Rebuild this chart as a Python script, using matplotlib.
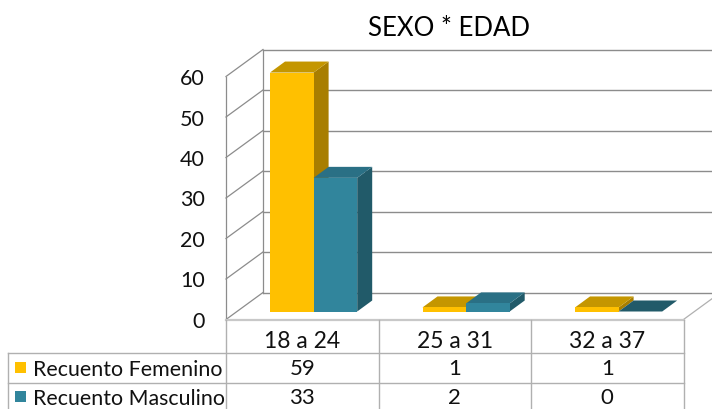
import matplotlib
matplotlib.use("Agg")
import matplotlib.pyplot as plt
from matplotlib.patches import Polygon

plt.rcParams['font.family'] = ['Lato', 'DejaVu Sans']

categories = ["18 a 24", "25 a 31", "32 a 37"]
series_names = ["Recuento Femenino", "Recuento Masculino"]
femenino = [59, 1, 1]
masculino = [33, 2, 0]
y_ticks = [0, 10, 20, 30, 40, 50, 60]
title = "SEXO * EDAD"

colors = [("#FFC000", "#A87E00", "#C49600"), ("#31859C", "#215A69", "#2A7085")]

# layout (pixels)
W, H = 712, 410
x0, x1 = 226.0, 683.5
y0 = 320.5
unit = 4.05
wall_dx, wall_dy = 37, -27
cat_w = (x1 - x0) / len(categories)
bar_w = 43.6
gap = 44.0
base_y = 312.5
bar_dx, bar_dy = 15, -11

fig = plt.figure(figsize=(W / 100, H / 100), dpi=100)
ax = fig.add_axes([0, 0, 1, 1])
ax.set_xlim(0, W)
ax.set_ylim(H, 0)
ax.axis("off")

grid = "#8c8c8c"
# walls and grid
for t in y_ticks:
    y = y0 - t * unit
    ax.plot([x0, x0 + wall_dx], [y, y + wall_dy], color=grid, lw=0.9, zorder=1)
    ax.plot([x0 + wall_dx, W + 5], [y + wall_dy, y + wall_dy], color=grid, lw=1.0, zorder=1)
    ax.text(205, y + 1.5, str(t), ha="right", va="center", fontsize=15.5, color="#111111")
ax.plot([x0, x0], [y0, y0 - max(y_ticks) * unit], color=grid, lw=0.9, zorder=1)
ax.plot([x0 + wall_dx] * 2, [y0 + wall_dy, y0 - max(y_ticks) * unit + wall_dy], color=grid, lw=0.9, zorder=1)
ax.plot([x1, x1 + wall_dx], [y0, y0 + wall_dy], color="#b0b0b0", lw=0.9, zorder=1)


def bar(left, value, cols, z):
    top = base_y - value * unit
    r = left + bar_w
    ax.add_patch(Polygon([(r, base_y), (r + bar_dx, base_y + bar_dy), (r + bar_dx, top + bar_dy), (r, top)],
                         fc=cols[1], ec="none", zorder=z))
    ax.add_patch(Polygon([(left, top), (r, top), (r + bar_dx, top + bar_dy), (left + bar_dx, top + bar_dy)],
                         fc=cols[2] if value > 0 else cols[1], ec="none", zorder=z))
    if value > 0:
        ax.fill_between([left, r], [base_y, base_y], [top, top], color=cols[0], lw=0, zorder=z + 0.5)


for i in range(len(categories)):
    left = x0 + i * cat_w + gap
    bar(left, femenino[i], colors[0], 3 + 2 * i)
    bar(left + bar_w, masculino[i], colors[1], 4 + 2 * i)

# table
line = "#b0b0b0"
row_lines = [354, 383.5]
ax.plot([x0, x1], [y0, y0], color="#c8c8c8", lw=1.6, zorder=2)
ax.plot([x0, x0], [y0, H], color=line, lw=1, zorder=2)
for j in range(1, len(categories) + 1):
    xv = x0 + j * cat_w
    ax.plot([xv, xv], [y0, H], color=line, lw=1, zorder=2)
for y in row_lines:
    ax.plot([8, x1], [y, y], color=line, lw=1, zorder=2)
ax.plot([8, 8], [354, H], color=line, lw=1, zorder=2)

for i, c in enumerate(categories):
    xc = x0 + (i + 0.5) * cat_w
    ax.text(xc, 342, c, ha="center", va="center", fontsize=16.5, color="#111111")
    ax.text(xc, 369, str(femenino[i]), ha="center", va="center", fontsize=16, color="#111111")
    ax.text(xc, 398.5, str(masculino[i]), ha="center", va="center", fontsize=16, color="#111111")

for name, col, yc, ty in zip(series_names, colors, [368.5, 397.5], [370, 399]):
    ax.add_patch(Polygon([(15, yc - 5.5), (26, yc - 5.5), (26, yc + 5.5), (15, yc + 5.5)], fc=col[0], ec="none"))
    ax.text(33, ty, name, ha="left", va="center", fontsize=15.4, color="#111111")

ax.text(449, 28.5, title, ha="center", va="center", fontsize=18.5, color="#000000")

fig.savefig("out.png", dpi=100)
